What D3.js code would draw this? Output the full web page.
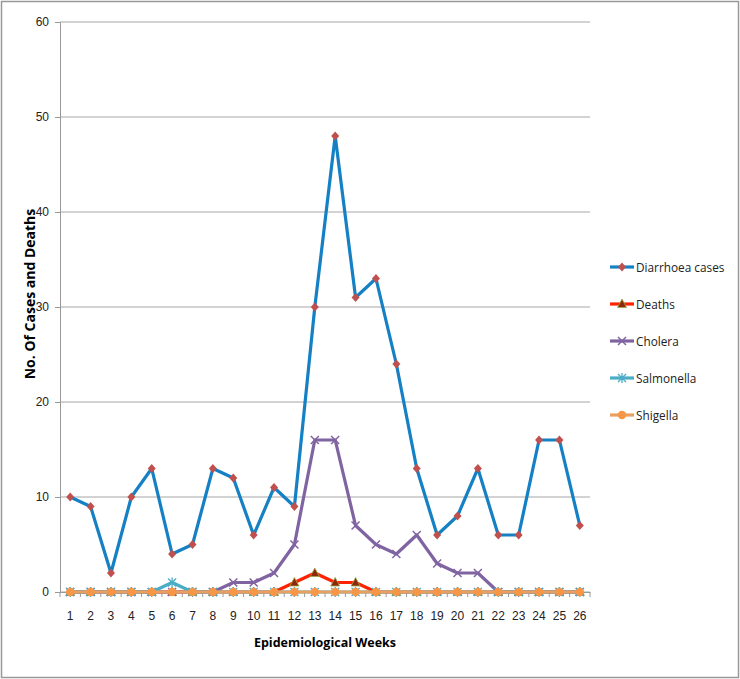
<html lang='eng'>
	<head>
		<title>Diarrhoea cases by week</title>
		<script src="https://d3js.org/d3.v7.min.js" charset="utf-8"></script>
		<style type="text/css">
			body{
				margin: 0;
				background: white;
				font-family: "Open Sans", "Liberation Sans", sans-serif;
			}
			.tick text{
				fill: #222;
			}
		</style>
	</head>
	<body>
		<div class="main"></div>
		<script>
			// data
			var weeks = d3.range(1, 27)
			var diarrhoea = [10, 9, 2, 10, 13, 4, 5, 13, 12, 6, 11, 9, 30, 48, 31, 33, 24, 13, 6, 8, 13, 6, 6, 16, 16, 7]
			var deaths = [0, 0, 0, 0, 0, 0, 0, 0, 0, 0, 0, 1, 2, 1, 1, 0, 0, 0, 0, 0, 0, 0, 0, 0, 0, 0]
			var cholera = [0, 0, 0, 0, 0, 0, 0, 0, 1, 1, 2, 5, 16, 16, 7, 5, 4, 6, 3, 2, 2, 0, 0, 0, 0, 0]
			var salmonella = [0, 0, 0, 0, 0, 1, 0, 0, 0, 0, 0, 0, 0, 0, 0, 0, 0, 0, 0, 0, 0, 0, 0, 0, 0, 0]
			var shigella = [0, 0, 0, 0, 0, 0, 0, 0, 0, 0, 0, 0, 0, 0, 0, 0, 0, 0, 0, 0, 0, 0, 0, 0, 0, 0]
			var yTicks = [0, 10, 20, 30, 40, 50, 60]

			var series = [
				{name: "Diarrhoea cases", values: diarrhoea, line: "#1580c4", marker: "diamond", mfill: "#c0504d"},
				{name: "Deaths", values: deaths, line: "#ff2200", marker: "triangle", mfill: "#8b2a0a"},
				{name: "Cholera", values: cholera, line: "#8064a2", marker: "x", mfill: "#8064a2"},
				{name: "Salmonella", values: salmonella, line: "#4bacc6", marker: "star", mfill: "#4bacc6"},
				{name: "Shigella", values: shigella, line: "#e8a060", marker: "circle", mfill: "#f79646"}
			]

			var width = 740
			var height = 679
			var svg = d3.select(".main")
				.append("svg")
				.attr("width", width)
				.attr("height", height)

			// outer frame
			svg.append("rect")
				.attr("x", 1.5).attr("y", 1.5)
				.attr("width", width - 3).attr("height", height - 3)
				.attr("fill", "white")
				.attr("stroke", "#999")
				.attr("stroke-width", 1.5)

			var plotLeft = 60, plotRight = 590, plotTop = 22, plotBottom = 592

			var x = d3.scaleBand()
				.domain(weeks)
				.range([plotLeft, plotRight])
			var y = d3.scaleLinear()
				.domain([0, 60])
				.range([plotBottom, plotTop])

			// gridlines
			svg.append("g")
				.selectAll("line")
				.data(yTicks)
				.enter()
				.append("line")
				.attr("x1", plotLeft).attr("x2", plotRight)
				.attr("y1", function(d){ return y(d) })
				.attr("y2", function(d){ return y(d) })
				.attr("stroke", "#a6a6a6")
				.attr("stroke-width", 1)

			var yAxis = svg.append("g")
				.attr("transform", "translate(" + plotLeft + ",0)")
				.call(d3.axisLeft(y).tickValues(yTicks).tickSize(5).tickPadding(6))
			yAxis.selectAll("path, line").attr("stroke", "#999")
			yAxis.selectAll("text").style("font-size", "12px")

			var xAxis = svg.append("g")
				.attr("transform", "translate(0," + plotBottom + ")")
				.call(d3.axisBottom(x).tickSize(0).tickPadding(19))
			xAxis.select(".domain").attr("stroke", "#999")
			xAxis.selectAll("text").style("font-size", "12px")

			// tick marks at band edges
			svg.append("g")
				.selectAll("line")
				.data(weeks.concat([27]))
				.enter()
				.append("line")
				.attr("x1", function(d){ return d == 27 ? plotRight : x(d) })
				.attr("x2", function(d){ return d == 27 ? plotRight : x(d) })
				.attr("y1", plotBottom).attr("y2", plotBottom + 5)
				.attr("stroke", "#999")

			var line = d3.line()
				.x(function(d, i){ return x(weeks[i]) + x.bandwidth() / 2 })
				.y(function(d){ return y(d) })

			function marker(g, type, fill){
				if(type == "diamond"){
					g.append("path").attr("d", "M0,-4.5L4,0L0,4.5L-4,0Z").attr("fill", fill)
				}else if(type == "triangle"){
					g.append("path").attr("d", "M0,-5L4.5,3.5L-4.5,3.5Z").attr("fill", fill)
						.attr("stroke", "#9aa84a").attr("stroke-width", 0.8)
				}else if(type == "x"){
					g.append("path").attr("d", "M-4,-4L4,4M-4,4L4,-4").attr("stroke", fill).attr("stroke-width", 1.5)
				}else if(type == "star"){
					g.append("path").attr("d", "M-4,-4L4,4M-4,4L4,-4M0,-5V5").attr("stroke", fill).attr("stroke-width", 1.3)
				}else{
					g.append("circle").attr("r", 4.2).attr("fill", fill)
				}
			}

			series.forEach(function(s){
				svg.append("path")
					.datum(s.values)
					.attr("d", line)
					.attr("fill", "none")
					.attr("stroke", s.line)
					.attr("stroke-width", 3.2)
					.attr("stroke-linejoin", "round")
				svg.append("g")
					.selectAll("g")
					.data(s.values)
					.enter()
					.append("g")
					.attr("transform", function(d, i){
						return "translate(" + (x(weeks[i]) + x.bandwidth() / 2) + "," + y(d) + ")"
					})
					.each(function(){ marker(d3.select(this), s.marker, s.mfill) })
			})

			// axis titles
			svg.append("text")
				.attr("x", 325).attr("y", 647)
				.attr("text-anchor", "middle")
				.style("font-size", "12.5px")
				.style("font-weight", "bold")
				.text("Epidemiological Weeks")
			svg.append("text")
				.attr("transform", "translate(35,294) rotate(-90)")
				.attr("text-anchor", "middle")
				.style("font-size", "14px")
				.style("font-weight", "bold")
				.text("No. Of Cases and Deaths")

			// legend
			var legend = svg.append("g")
				.selectAll("g")
				.data(series)
				.enter()
				.append("g")
				.attr("transform", function(d, i){ return "translate(610," + (267 + i * 37) + ")" })
			legend.append("line")
				.attr("x1", 0).attr("x2", 24)
				.attr("stroke", function(d){ return d.line })
				.attr("stroke-width", 3.2)
			legend.append("g")
				.attr("transform", "translate(12,0)")
				.each(function(d){ marker(d3.select(this), d.marker, d.mfill) })
			legend.append("text")
				.attr("x", 26).attr("y", 4.5)
				.style("font-size", "11.8px")
				.style("fill", "#222")
				.text(function(d){ return d.name })
		</script>
	</body>
</html>
